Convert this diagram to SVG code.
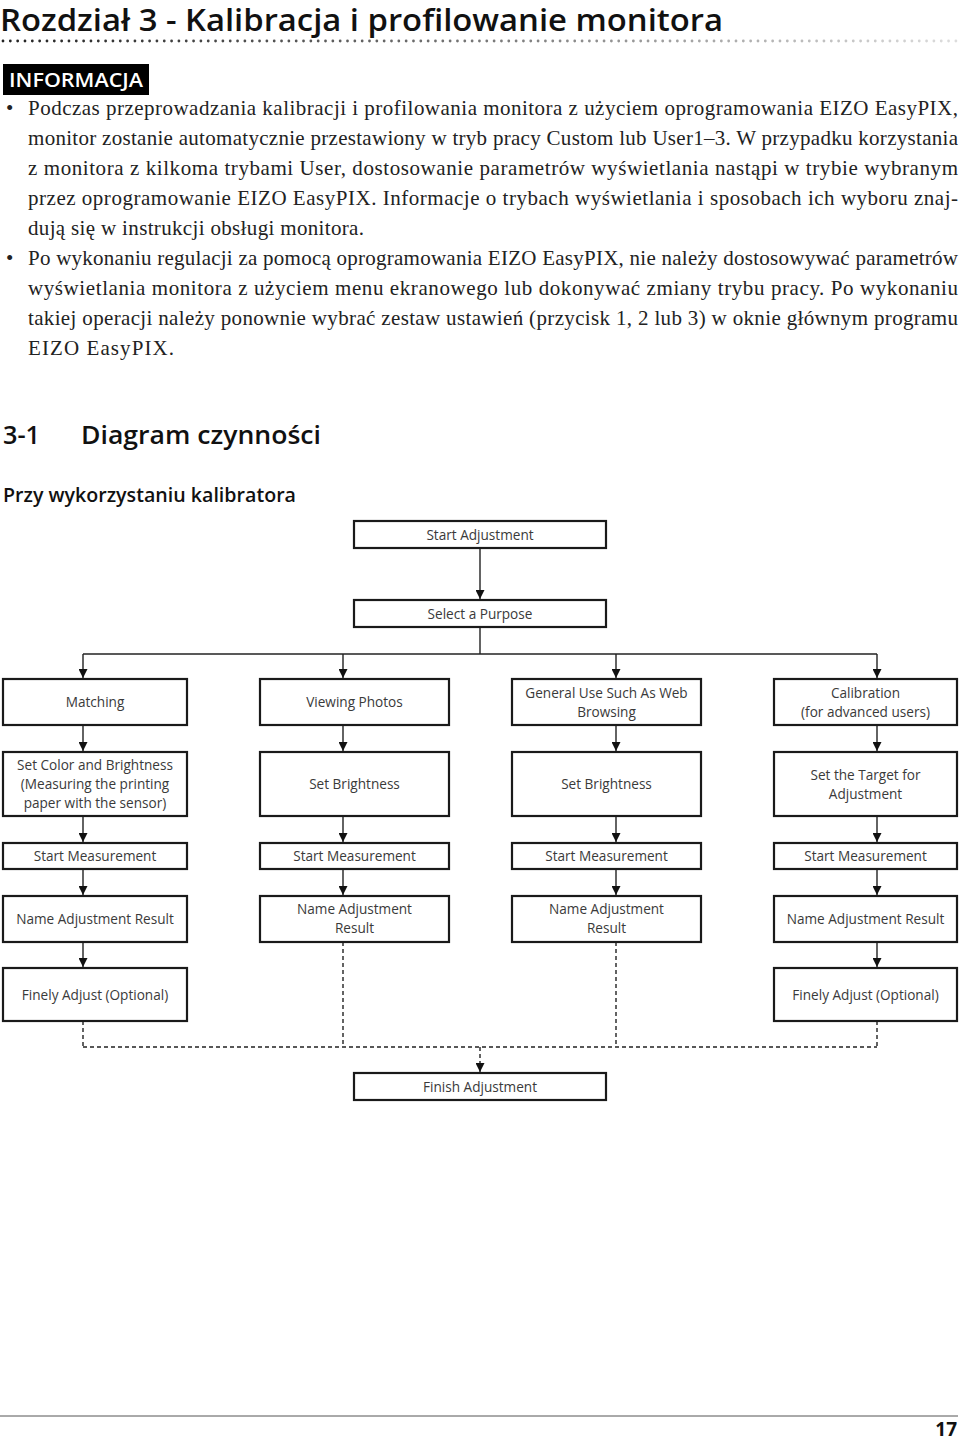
<svg xmlns="http://www.w3.org/2000/svg" width="960" height="1440" viewBox="0 0 960 1440">
<defs>
<linearGradient id="dotg" gradientUnits="userSpaceOnUse" x1="0" y1="0" x2="960" y2="0">
<stop offset="0" stop-color="#222"/>
<stop offset="0.5" stop-color="#777"/>
<stop offset="1" stop-color="#ddd"/>
</linearGradient>
<marker id="ah" viewBox="0 0 10 10" refX="10" refY="5" markerWidth="11" markerHeight="9" markerUnits="userSpaceOnUse" orient="auto">
<path d="M0,0 L10,5 L0,10 z" fill="#111"/>
</marker>
</defs>
<style>
.hd{font-family:"Open Sans","Liberation Sans",sans-serif;font-weight:600;fill:#111}
.body{font-family:"Liberation Serif","DejaVu Serif",serif;font-size:21px;fill:#222}
.box{fill:#fff;stroke:#1a1a1a;stroke-width:2.2}
.bt{font-family:"Open Sans","Liberation Sans",sans-serif;font-weight:400;font-size:13.6px;fill:#3a3a3a;text-anchor:middle}
.ln{fill:none;stroke:#222;stroke-width:1.4}
.dl{fill:none;stroke:#222;stroke-width:1.4;stroke-dasharray:4 3}
</style>
<rect width="960" height="1440" fill="#fff"/>

<text class="hd" x="0" y="31" font-size="30" textLength="723" lengthAdjust="spacingAndGlyphs">Rozdział 3 - Kalibracja i profilowanie monitora</text>
<line x1="3" y1="41" x2="958" y2="41" stroke="url(#dotg)" stroke-width="2.8" stroke-linecap="round" stroke-dasharray="0 7.33"/>

<rect x="3" y="64" width="146" height="31" fill="#000"/>
<text x="9" y="87" font-family="Open Sans, Liberation Sans, sans-serif" font-weight="600" font-size="19" fill="#fff" textLength="134" lengthAdjust="spacingAndGlyphs">INFORMACJA</text>

<g class="body">
<text x="6" y="115">•</text>
<text x="28" y="115" textLength="930" lengthAdjust="spacing">Podczas przeprowadzania kalibracji i profilowania monitora z użyciem oprogramowania EIZO EasyPIX,</text>
<text x="28" y="145" textLength="930" lengthAdjust="spacing">monitor zostanie automatycznie przestawiony w tryb pracy Custom lub User1–3. W przypadku korzystania</text>
<text x="28" y="175" textLength="930" lengthAdjust="spacing">z monitora z kilkoma trybami User, dostosowanie parametrów wyświetlania nastąpi w trybie wybranym</text>
<text x="28" y="205" textLength="930" lengthAdjust="spacing">przez oprogramowanie EIZO EasyPIX. Informacje o trybach wyświetlania i sposobach ich wyboru znaj-</text>
<text x="28" y="235" textLength="336" lengthAdjust="spacing">dują się w instrukcji obsługi monitora.</text>
<text x="6" y="265">•</text>
<text x="28" y="265" textLength="930" lengthAdjust="spacing">Po wykonaniu regulacji za pomocą oprogramowania EIZO EasyPIX, nie należy dostosowywać parametrów</text>
<text x="28" y="295" textLength="930" lengthAdjust="spacing">wyświetlania monitora z użyciem menu ekranowego lub dokonywać zmiany trybu pracy. Po wykonaniu</text>
<text x="28" y="325" textLength="930" lengthAdjust="spacing">takiej operacji należy ponownie wybrać zestaw ustawień (przycisk 1, 2 lub 3) w oknie głównym programu</text>
<text x="28" y="355" textLength="146" lengthAdjust="spacing">EIZO EasyPIX.</text>
</g>

<text class="hd" x="3" y="444" font-size="26" textLength="37" lengthAdjust="spacingAndGlyphs">3-1</text>
<text class="hd" x="81" y="444" font-size="26" textLength="240" lengthAdjust="spacingAndGlyphs">Diagram czynności</text>
<text class="hd" x="3" y="502" font-size="19" textLength="293" lengthAdjust="spacingAndGlyphs">Przy wykorzystaniu kalibratora</text>

<g id="connectors">
<line class="ln" x1="480" y1="548" x2="480" y2="599" marker-end="url(#ah)"/>
<polyline class="ln" points="480,627 480,654"/>
<line class="ln" x1="83" y1="654" x2="877" y2="654"/>
<line class="ln" x1="83" y1="654" x2="83" y2="678" marker-end="url(#ah)"/>
<line class="ln" x1="343" y1="654" x2="343" y2="678" marker-end="url(#ah)"/>
<line class="ln" x1="616" y1="654" x2="616" y2="678" marker-end="url(#ah)"/>
<line class="ln" x1="877" y1="654" x2="877" y2="678" marker-end="url(#ah)"/>
<line class="ln" x1="83" y1="725" x2="83" y2="751" marker-end="url(#ah)"/>
<line class="ln" x1="343" y1="725" x2="343" y2="751" marker-end="url(#ah)"/>
<line class="ln" x1="616" y1="725" x2="616" y2="751" marker-end="url(#ah)"/>
<line class="ln" x1="877" y1="725" x2="877" y2="751" marker-end="url(#ah)"/>
<line class="ln" x1="83" y1="816" x2="83" y2="842" marker-end="url(#ah)"/>
<line class="ln" x1="343" y1="816" x2="343" y2="842" marker-end="url(#ah)"/>
<line class="ln" x1="616" y1="816" x2="616" y2="842" marker-end="url(#ah)"/>
<line class="ln" x1="877" y1="816" x2="877" y2="842" marker-end="url(#ah)"/>
<line class="ln" x1="83" y1="869" x2="83" y2="895" marker-end="url(#ah)"/>
<line class="ln" x1="343" y1="869" x2="343" y2="895" marker-end="url(#ah)"/>
<line class="ln" x1="616" y1="869" x2="616" y2="895" marker-end="url(#ah)"/>
<line class="ln" x1="877" y1="869" x2="877" y2="895" marker-end="url(#ah)"/>
<line class="ln" x1="83" y1="942" x2="83" y2="967" marker-end="url(#ah)"/>
<line class="ln" x1="877" y1="942" x2="877" y2="967" marker-end="url(#ah)"/>
<line class="dl" x1="83" y1="1021" x2="83" y2="1047"/>
<line class="dl" x1="343" y1="942" x2="343" y2="1047"/>
<line class="dl" x1="616" y1="942" x2="616" y2="1047"/>
<line class="dl" x1="877" y1="1021" x2="877" y2="1047"/>
<line class="dl" x1="83" y1="1047" x2="877" y2="1047" stroke-dasharray="3 2"/>
<line class="dl" x1="480" y1="1047" x2="480" y2="1072" marker-end="url(#ah)"/>
</g>

<g id="start"><rect class="box" x="354" y="521" width="252" height="27"/><text class="bt" x="480" y="540">Start Adjustment</text></g>
<g id="purpose"><rect class="box" x="354" y="600" width="252" height="27"/><text class="bt" x="480" y="619">Select a Purpose</text></g>

<g id="matching"><rect class="box" x="3" y="679" width="184" height="46"/><text class="bt" x="95" y="707">Matching</text></g>
<g id="photos"><rect class="box" x="260" y="679" width="189" height="46"/><text class="bt" x="354.5" y="707">Viewing Photos</text></g>
<g id="general"><rect class="box" x="512" y="679" width="189" height="46"/><text class="bt" x="606.5" y="698">General Use Such As Web</text><text class="bt" x="606.5" y="717">Browsing</text></g>
<g id="calibration"><rect class="box" x="774" y="679" width="183" height="46"/><text class="bt" x="865.5" y="698">Calibration</text><text class="bt" x="865.5" y="717">(for advanced users)</text></g>

<g id="setcolor"><rect class="box" x="3" y="752" width="184" height="64"/><text class="bt" x="95" y="770">Set Color and Brightness</text><text class="bt" x="95" y="789">(Measuring the printing</text><text class="bt" x="95" y="808">paper with the sensor)</text></g>
<g id="bright2"><rect class="box" x="260" y="752" width="189" height="64"/><text class="bt" x="354.5" y="789">Set Brightness</text></g>
<g id="bright3"><rect class="box" x="512" y="752" width="189" height="64"/><text class="bt" x="606.5" y="789">Set Brightness</text></g>
<g id="target"><rect class="box" x="774" y="752" width="183" height="64"/><text class="bt" x="865.5" y="780">Set the Target for</text><text class="bt" x="865.5" y="799">Adjustment</text></g>

<g id="meas1"><rect class="box" x="3" y="843" width="184" height="26"/><text class="bt" x="95" y="861">Start Measurement</text></g>
<g id="meas2"><rect class="box" x="260" y="843" width="189" height="26"/><text class="bt" x="354.5" y="861">Start Measurement</text></g>
<g id="meas3"><rect class="box" x="512" y="843" width="189" height="26"/><text class="bt" x="606.5" y="861">Start Measurement</text></g>
<g id="meas4"><rect class="box" x="774" y="843" width="183" height="26"/><text class="bt" x="865.5" y="861">Start Measurement</text></g>

<g id="name1"><rect class="box" x="3" y="896" width="184" height="46"/><text class="bt" x="95" y="924">Name Adjustment Result</text></g>
<g id="name2"><rect class="box" x="260" y="896" width="189" height="46"/><text class="bt" x="354.5" y="914">Name Adjustment</text><text class="bt" x="354.5" y="933">Result</text></g>
<g id="name3"><rect class="box" x="512" y="896" width="189" height="46"/><text class="bt" x="606.5" y="914">Name Adjustment</text><text class="bt" x="606.5" y="933">Result</text></g>
<g id="name4"><rect class="box" x="774" y="896" width="183" height="46"/><text class="bt" x="865.5" y="924">Name Adjustment Result</text></g>

<g id="fine1"><rect class="box" x="3" y="968" width="184" height="53"/><text class="bt" x="95" y="1000">Finely Adjust (Optional)</text></g>
<g id="fine4"><rect class="box" x="774" y="968" width="183" height="53"/><text class="bt" x="865.5" y="1000">Finely Adjust (Optional)</text></g>

<g id="finish"><rect class="box" x="354" y="1073" width="252" height="27"/><text class="bt" x="480" y="1092">Finish Adjustment</text></g>

<line x1="0" y1="1416" x2="958" y2="1416" stroke="#555" stroke-width="1"/>
<text x="957" y="1436" font-family="Open Sans, Liberation Sans, sans-serif" font-weight="700" font-size="19" fill="#111" text-anchor="end">17</text>
</svg>
